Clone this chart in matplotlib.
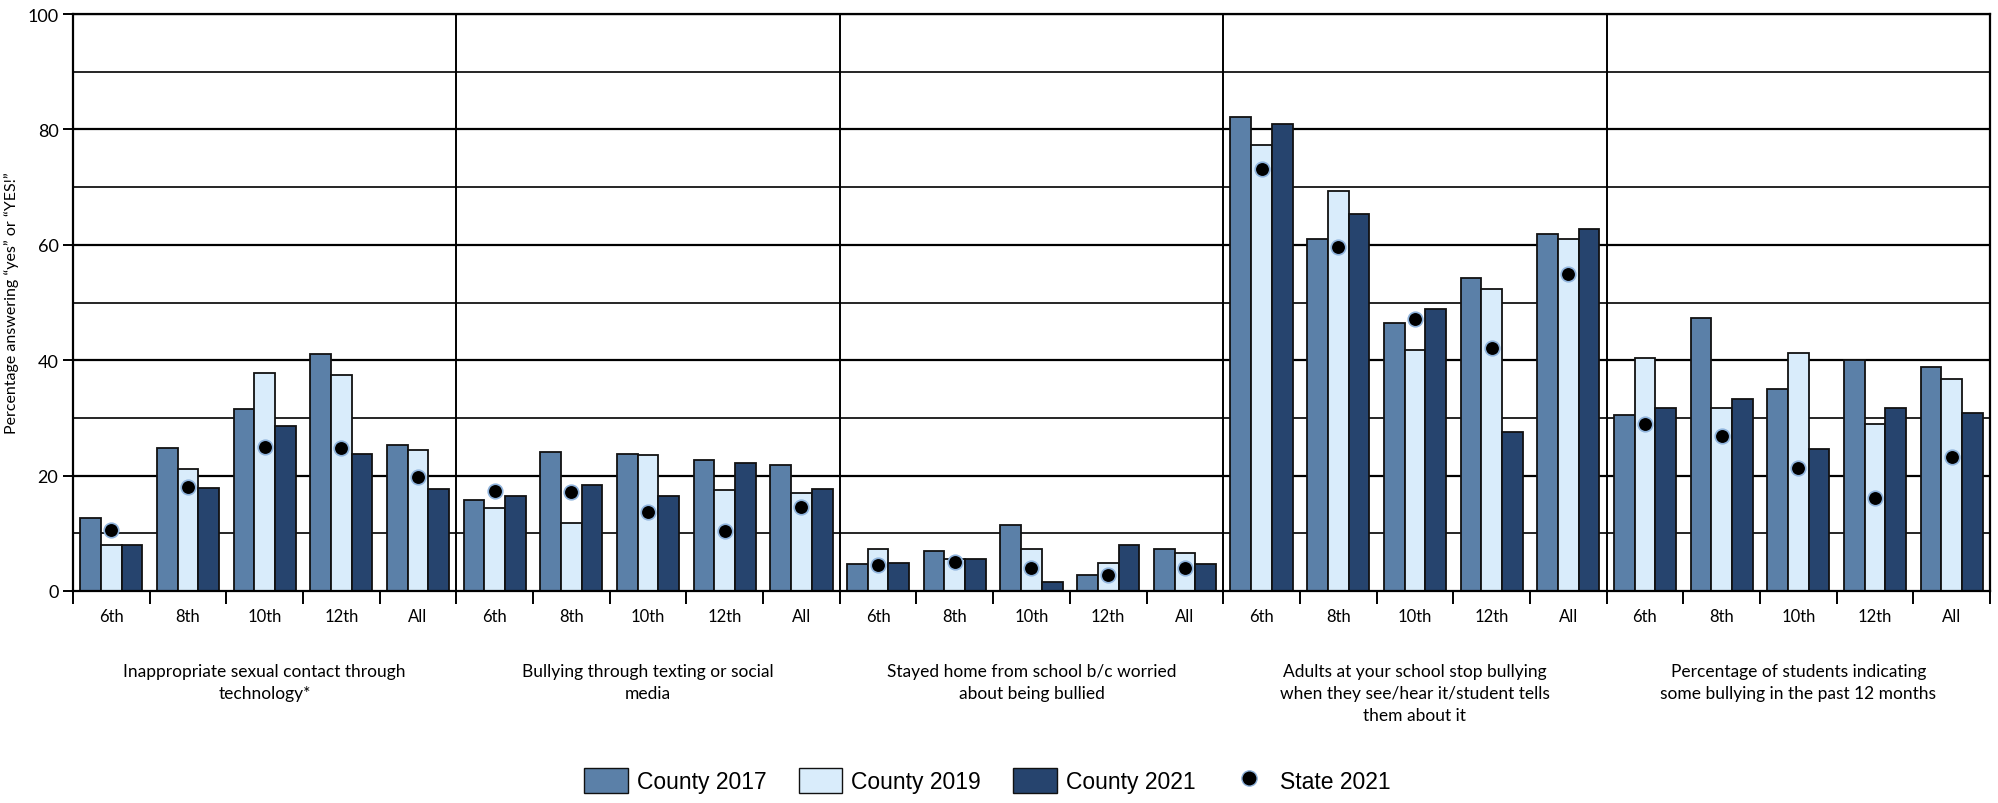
import matplotlib
matplotlib.use("Agg")

import matplotlib.pyplot as plt
import matplotlib.transforms as mtransforms
from matplotlib.lines import Line2D
from matplotlib.patches import Patch

groups = [
    "Inappropriate sexual contact through\ntechnology*",
    "Bullying through texting or social\nmedia",
    "Stayed home from school b/c worried\nabout being bullied",
    "Adults at your school stop bullying\nwhen they see/hear it/student tells\nthem about it",
    "Percentage of students indicating\nsome bullying in the past 12 months",
]
grades = ["6th", "8th", "10th", "12th", "All"]

county_2017 = [12.6, 24.7, 31.6, 41.0, 25.3,
               15.8, 24.1, 23.8, 22.7, 21.8,
               4.6, 7.0, 11.5, 2.8, 7.3,
               82.1, 61.0, 46.4, 54.2, 61.8,
               30.5, 47.4, 35.0, 40.1, 38.8]
county_2019 = [7.9, 21.1, 37.8, 37.4, 24.4,
               14.4, 11.7, 23.5, 17.5, 17.0,
               7.3, 5.5, 7.3, 4.9, 6.5,
               77.3, 69.3, 41.7, 52.4, 61.0,
               40.3, 31.7, 41.3, 29.0, 36.8]
county_2021 = [7.9, 17.9, 28.6, 23.8, 17.7,
               16.5, 18.3, 16.5, 22.1, 17.6,
               4.9, 5.5, 1.6, 7.9, 4.7,
               80.9, 65.4, 48.8, 27.5, 62.8,
               31.7, 33.2, 24.6, 31.7, 30.8]
state_2021 = [10.5, 18.1, 24.9, 24.7, 19.8,
              17.3, 17.1, 13.7, 10.4, 14.5,
              4.5, 5.0, 4.0, 2.7, 4.0,
              73.1, 59.6, 47.2, 42.1, 55.0,
              29.0, 26.9, 21.4, 16.2, 23.3]

c17 = "#5b80a8"
c19 = "#d9ecfb"
c21 = "#26446e"

plt.rcParams["font.family"] = ["Lato", "DejaVu Sans"]

fig = plt.figure(figsize=(19.99, 8.04), dpi=100)
ax = fig.add_axes([73 / 1999, 1 - 592 / 804, 1917 / 1999, 577 / 804])

n = len(county_2017)
centers = [i + 0.5 for i in range(n)]
w = 0.27

# grid behind bars
for v in range(10, 101, 10):
    ax.axhline(v, color="black", lw=1.6 if v % 20 == 0 else 1.2, zorder=0)
for g in range(1, 5):
    ax.axvline(g * 5, color="black", lw=1.4, zorder=0)

ax.bar([c - w for c in centers], county_2017, w, color=c17, edgecolor="#111111", lw=1.3, zorder=2)
ax.bar(centers, county_2019, w, color=c19, edgecolor="#111111", lw=1.3, zorder=2)
ax.bar([c + w for c in centers], county_2021, w, color=c21, edgecolor="#111111", lw=1.3, zorder=2)
ax.scatter(centers, state_2021, s=110, color="black", edgecolor="#8fb3dc", lw=1.2, zorder=3)

ax.set_xlim(0, n)
ax.set_ylim(0, 100)
ax.set_yticks(range(0, 101, 20))
ax.tick_params(axis="y", labelsize=13, length=7, width=1.4, direction="out")
ax.set_xticks(range(0, n + 1))
ax.set_xticklabels([])
ax.set_xticks(centers, minor=True)
ax.set_xticklabels(grades * 5, minor=True)
ax.tick_params(axis="x", which="major", length=9, width=1.4, direction="out")
ax.tick_params(axis="x", which="minor", length=0, labelsize=12, pad=12)
for s in ax.spines.values():
    s.set_linewidth(1.6)

ax.set_ylabel("Percentage answering \u201cyes\u201d or \u201cYES!\u201d", fontsize=11.5, labelpad=6)

trans = mtransforms.blended_transform_factory(ax.transData, ax.transAxes)
for i, name in enumerate(groups):
    ax.text(i * 5 + 2.5, -0.125, name, transform=trans, ha="center", va="top",
            fontsize=12.5, linespacing=1.45)

handles = [
    Patch(facecolor=c17, edgecolor="#111111", label="County 2017"),
    Patch(facecolor=c19, edgecolor="#111111", label="County 2019"),
    Patch(facecolor=c21, edgecolor="#111111", label="County 2021"),
    Line2D([], [], marker="o", ls="", markersize=11, markerfacecolor="black",
           markeredgecolor="#8fb3dc", label="State 2021"),
]
fig.legend(handles=handles, loc="center", bbox_to_anchor=(0.494, 0.028), ncol=4,
           frameon=False, prop={"family": ["Liberation Sans Narrow", "Liberation Sans", "DejaVu Sans"], "size": 16.5},
           handlelength=1.9, handleheight=1.3, columnspacing=1.4, handletextpad=0.4)

fig.savefig("out.png", dpi=100)
plt.close(fig)
